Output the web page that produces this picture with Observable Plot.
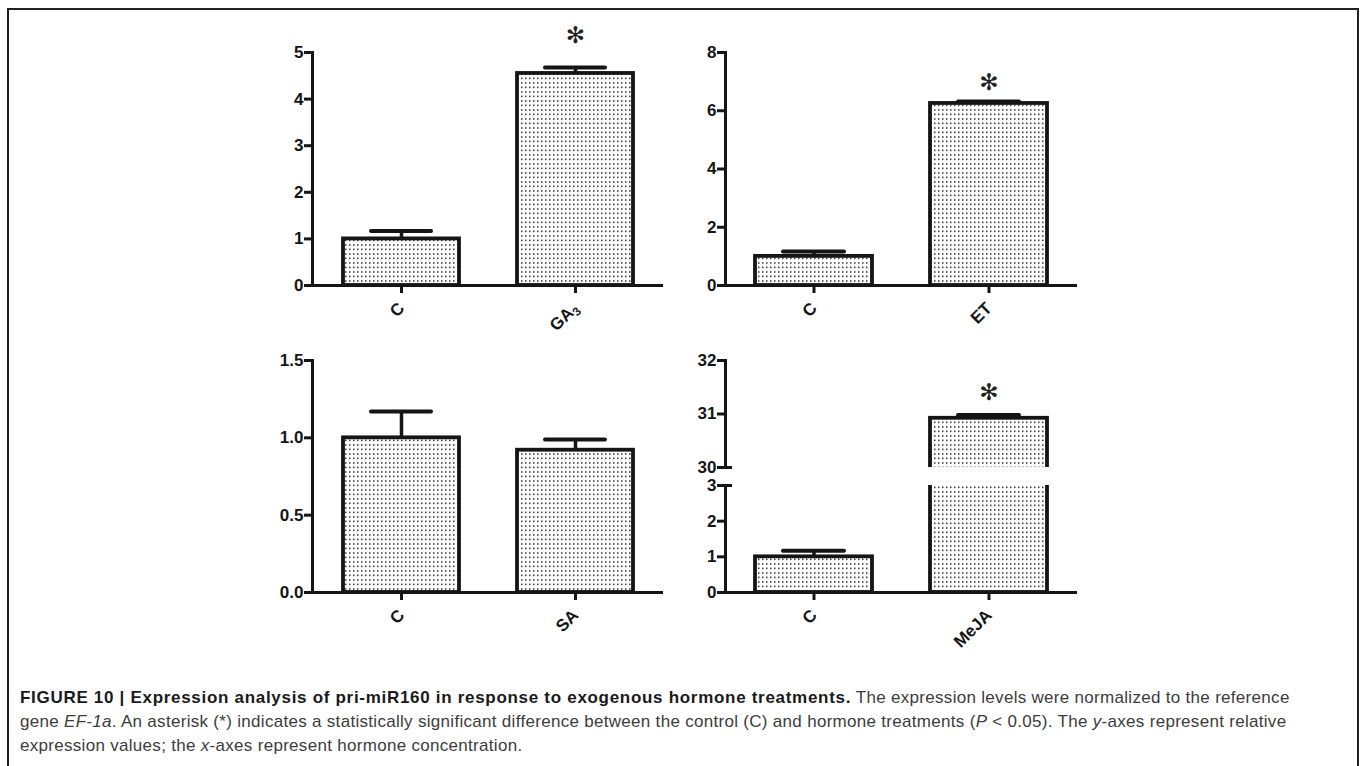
<!DOCTYPE html>
<html>
<head>
<meta charset="utf-8">
<script src="https://cdn.jsdelivr.net/npm/d3@7"></script>
<script src="https://cdn.jsdelivr.net/npm/@observablehq/plot@0.6"></script>
<style>
  html, body { margin: 0; padding: 0; background: #fff; width: 1360px; height: 766px; overflow: hidden; }
  #frame { position: absolute; left: 7px; top: 8px; width: 1348px; height: 800px; border: 2px solid #231f20; border-bottom: none; }
  #caption { position: absolute; left: 20px; top: 686px; font-family: "Liberation Sans", Arial, sans-serif; font-size: 17px; letter-spacing: 0.3px; line-height: 24px; color: #3c3c3c; white-space: nowrap; }
  #caption b { color: #1a1a1a; letter-spacing: 0.7px; }
  .panel { position: absolute; overflow: visible; }
</style>
</head>
<body>
<div id="frame"></div>
<svg width="0" height="0" style="position:absolute">
  <defs>
    <pattern id="dots" width="4" height="4.5" patternUnits="userSpaceOnUse">
      <rect width="4" height="4.5" fill="#ffffff"></rect>
      <rect x="1" y="1.2" width="1.5" height="1.5" fill="#2a2a2a"></rect>
    </pattern>
  </defs>
</svg>
<div id="charts"></div>
<div id="caption">
  <b>FIGURE 10 | Expression analysis of pri-miR160 in response to exogenous hormone treatments.</b> The expression levels were normalized to the reference<br>
  gene <i>EF-1a</i>. An asterisk (*) indicates a statistically significant difference between the control (C) and hormone treatments (<i>P</i> &lt; 0.05). The <i>y</i>-axes represent relative<br>
  expression values; the <i>x</i>-axes represent hormone concentration.
</div>
<script>
// ---- data ----
const gaCats = ["C", "GA₃"];
const gaVals = [1.0, 4.55];
const gaErrs = [0.17, 0.13];
const gaStar = [null, 5.36];
const gaTicks = [0, 1, 2, 3, 4, 5];

const etCats = ["C", "ET"];
const etVals = [1.0, 6.25];
const etErrs = [0.17, 0.07];
const etStar = [null, 6.97];
const etTicks = [0, 2, 4, 6, 8];

const saCats = ["C", "SA"];
const saVals = [1.0, 0.92];
const saErrs = [0.17, 0.07];
const saStar = [null, null];
const saTicks = [0, 0.5, 1.0, 1.5];

const mejaCats = ["C", "MeJA"];
const mejaVals = [1.0, 30.92];
const mejaErrs = [0.17, 0.06];
const mejaStar = [null, 31.4];
const mejaLowTicks = [0, 1, 2, 3];
const mejaHighTicks = [30, 31, 32];

// ---- drawing ----
const INK = "#151515";
const FONT = "'Liberation Sans', Arial, Helvetica, sans-serif";
const host = document.getElementById("charts");

function panel(o) {
  const data = o.cats.map((c, i) => ({cat: c, v: o.vals[i], e: o.errs[i], s: o.stars[i]}));
  const mL = 60, mR = 14, mT = o.mT ?? 34, mB = o.xAxis ? 80 : 2;
  const marks = [
    Plot.barY(data, {x: "cat", y1: 0, y2: "v", fill: "url(#dots)", stroke: INK, strokeWidth: 3.8, clip: o.clip}),
    Plot.ruleX(data, {x: "cat", y1: "v", y2: d => d.v + d.e, stroke: INK, strokeWidth: 3.5, clip: o.clip}),
    Plot.tickY(data, {x: "cat", y: d => d.v + d.e, insetLeft: 28, insetRight: 28, stroke: INK, strokeWidth: 4, strokeLinecap: "round", clip: o.clip}),
    Plot.text(data.filter(d => d.s != null), {x: "cat", y: "s", text: () => "✻", fontSize: 23, fontWeight: "normal", fill: "#222", fontFamily: "DejaVu Sans", lineAnchor: "middle"}),
    Plot.frame({anchor: "left", stroke: INK, strokeWidth: 3}),
    Plot.axisY({ticks: o.ticks, tickFormat: o.fmt, tickSize: 8, tickPadding: 1, stroke: INK, strokeWidth: 3, fill: INK, label: null, fontSize: 17, fontWeight: "bold"})
  ];
  if (o.capTick) {
    marks.push(Plot.axisY({ticks: [o.capTick], tickSize: -7, text: null, stroke: INK, strokeWidth: 3, label: null}));
  }
  if (o.xAxis) {
    marks.push(
      Plot.ruleY([o.domain[0]], {stroke: INK, strokeWidth: 3}),
      Plot.axisX({tickRotate: -45, tickSize: 8, tickPadding: 12, stroke: INK, strokeWidth: 3, fill: INK, label: null, fontSize: 17, fontWeight: "bold"})
    );
  }
  const plot = Plot.plot({
    width: mL + o.w + mR,
    height: mT + o.h + mB,
    marginLeft: mL, marginRight: mR, marginTop: mT, marginBottom: mB,
    style: {fontFamily: FONT, fontSize: "17px", fontWeight: "bold", color: INK, background: "transparent", overflow: "visible"},
    x: {domain: o.cats, paddingInner: 1 / 3, paddingOuter: 0.172, axis: null},
    y: {domain: o.domain, axis: null},
    marks
  });
  // render subscript digits in tick labels as real subscripts
  d3.select(plot).selectAll("text").each(function () {
    const t = this.textContent;
    const m = t.match(/^(.*?)([₀-₉]+)$/);
    if (m && this.childElementCount === 0) {
      const sub = m[2].replace(/[₀-₉]/g, ch => String(ch.charCodeAt(0) - 0x2080));
      const sel = d3.select(this);
      sel.text(m[1]);
      sel.append("tspan").attr("dy", "0.3em").attr("font-size", "12px").text(sub);
    }
  });
  plot.classList.add("panel");
  plot.style.left = (o.left - mL) + "px";
  plot.style.top = (o.top - mT) + "px";
  host.appendChild(plot);
}

// top-left: GA3
panel({cats: gaCats, vals: gaVals, errs: gaErrs, stars: gaStar, domain: [0, 5], ticks: gaTicks, fmt: d3.format("d"),
       left: 312, top: 52, w: 351, h: 233, xAxis: true, clip: false});
// top-right: ET
panel({cats: etCats, vals: etVals, errs: etErrs, stars: etStar, domain: [0, 8], ticks: etTicks, fmt: d3.format("d"),
       left: 725, top: 52, w: 352, h: 233, xAxis: true, clip: false});
// bottom-left: SA
panel({cats: saCats, vals: saVals, errs: saErrs, stars: saStar, domain: [0, 1.5], ticks: saTicks, fmt: d3.format(".1f"),
       left: 312, top: 360, w: 351, h: 232, xAxis: true, clip: false});
// bottom-right: MeJA, broken axis (upper segment)
panel({cats: mejaCats, vals: mejaVals, errs: mejaErrs, stars: mejaStar, domain: [30, 32], ticks: mejaHighTicks, fmt: d3.format("d"),
       left: 725, top: 360, w: 352, h: 107, xAxis: false, clip: true, capTick: 30});
// bottom-right: lower segment
panel({cats: mejaCats, vals: mejaVals, errs: mejaErrs, stars: [null, null], domain: [0, 3], ticks: mejaLowTicks, fmt: d3.format("d"),
       left: 725, top: 485, w: 352, h: 107, xAxis: true, clip: true, capTick: 3, mT: 4});
</script>
</body>
</html>
